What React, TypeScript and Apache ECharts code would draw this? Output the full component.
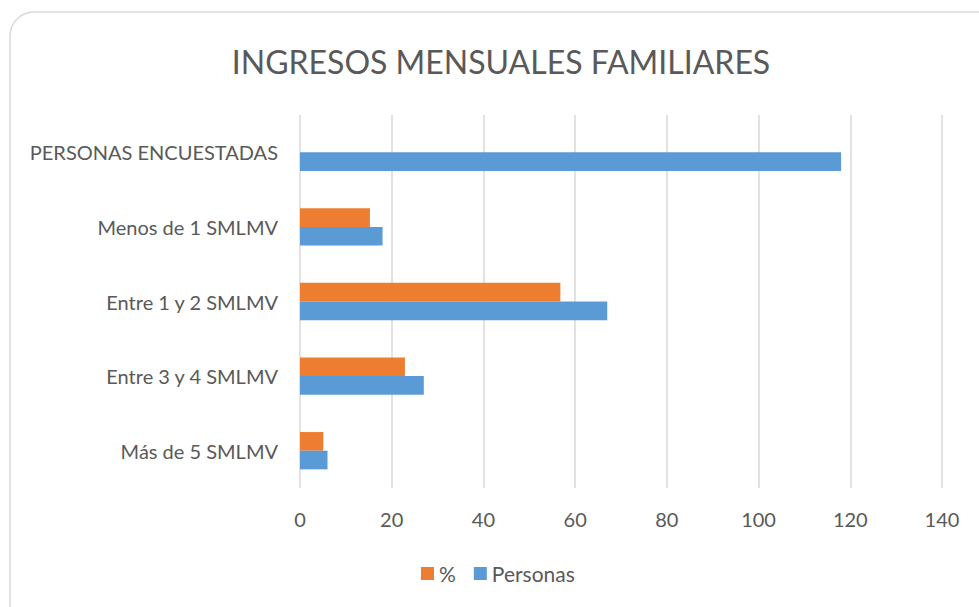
import React, { useEffect, useRef } from "react";
import * as echarts from "echarts";

const categories = [
  "PERSONAS ENCUESTADAS",
  "Menos de 1 SMLMV",
  "Entre 1 y 2 SMLMV",
  "Entre 3 y 4 SMLMV",
  "Más de 5 SMLMV",
];
const pctValues: (number | null)[] = [null, 15.25, 56.78, 22.88, 5.08];
const personasValues = [118, 18, 67, 27, 6];
const seriesNames = ["%", "Personas"];
const titleText = "INGRESOS MENSUALES FAMILIARES";

const FONT = "Lato, 'Open Sans', sans-serif";
const TEXT = "#595959";

export default function App() {
  const ref = useRef<HTMLDivElement>(null);
  useEffect(() => {
    if (!ref.current) return;
    const chart = echarts.init(ref.current, undefined, { renderer: "svg" });
    chart.setOption({
      animation: false,
      backgroundColor: "#ffffff",
      textStyle: { fontFamily: FONT },
      graphic: [
        {
          type: "rect",
          z: -1,
          shape: { x: 10, y: 12, width: 1000, height: 630, r: 24 },
          style: { fill: "transparent", stroke: "#D9D9D9", lineWidth: 1.5 },
          silent: true,
        },
        {
          type: "text",
          x: 501,
          y: 61,
          style: {
            text: titleText,
            fontFamily: FONT,
            fontSize: 32,
            fill: TEXT,
            align: "center",
            verticalAlign: "middle",
          },
        },
      ],
      legend: {
        left: 421,
        top: 563,
        padding: 0,
        itemWidth: 13,
        itemHeight: 13,
        itemGap: 18,
        icon: "rect",
        textStyle: { color: TEXT, fontSize: 21, fontFamily: FONT },
        data: seriesNames,
      },
      grid: { left: 300, right: 37, top: 115, bottom: 119, containLabel: false },
      xAxis: {
        type: "value",
        min: 0,
        max: 140,
        interval: 20,
        axisLine: { show: false },
        axisTick: { show: false },
        axisLabel: { color: TEXT, fontSize: 20, fontFamily: FONT, margin: 21 },
        splitLine: { show: true, lineStyle: { color: "#D9D9D9", width: 1.5 } },
      },
      yAxis: {
        type: "category",
        data: categories,
        inverse: true,
        axisLine: { show: false },
        axisTick: { show: false },
        axisLabel: { color: TEXT, fontSize: 20, fontFamily: FONT, margin: 22 },
      },
      series: [
        {
          name: seriesNames[0],
          type: "bar",
          data: pctValues,
          barGap: "0%",
          barCategoryGap: "50%",
          itemStyle: { color: "#ED7D31" },
        },
        {
          name: seriesNames[1],
          type: "bar",
          data: personasValues,
          barGap: "0%",
          barCategoryGap: "50%",
          itemStyle: { color: "#5B9BD5" },
        },
      ],
    });
    return () => chart.dispose();
  }, []);
  return (
    <div
      ref={ref}
      style={{ position: "fixed", left: 0, top: 0, width: 979, height: 607 }}
    />
  );
}
